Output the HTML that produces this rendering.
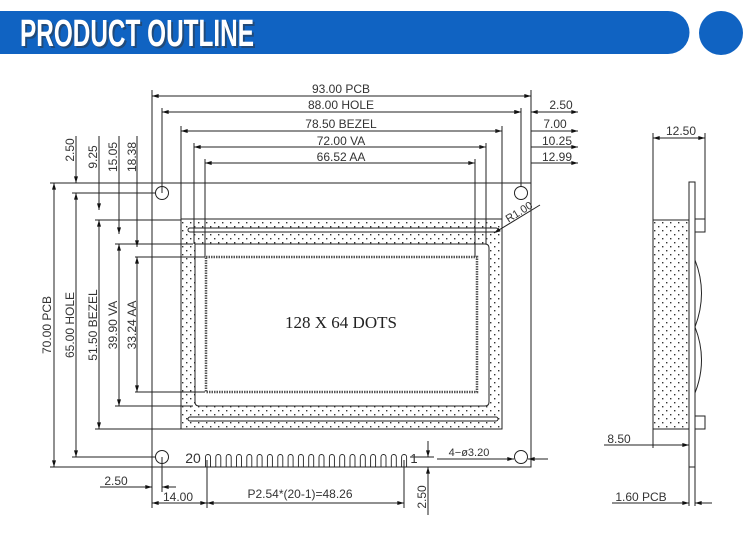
<!DOCTYPE html>
<html><head><meta charset="utf-8"><style>
html,body{margin:0;padding:0;background:#fff;width:750px;height:550px;overflow:hidden}
svg{display:block}
.t{font-family:"Liberation Sans",sans-serif;font-size:12px;fill:#333}
</style></head><body>
<svg width="750" height="550" viewBox="0 0 750 550" xmlns="http://www.w3.org/2000/svg">
<defs>
<marker id="a" viewBox="0 0 10 6" refX="10" refY="3" markerWidth="8" markerHeight="4" orient="auto-start-reverse" markerUnits="userSpaceOnUse"><path d="M0,0L10,3L0,6z" fill="#111"/></marker>
<pattern id="dots" width="8" height="8" patternUnits="userSpaceOnUse"><rect x="2" y="2" width="1.4" height="1.4" fill="#333"/><rect x="6" y="6" width="1.4" height="1.4" fill="#333"/></pattern>
</defs>
<!-- header -->
<path d="M0,11H668A21.5,21.5 0 0 1 668,54H0Z" fill="#1063c2"/>
<circle cx="721" cy="33" r="22" fill="#1063c2"/>
<text x="22" y="48" font-family="Liberation Sans,sans-serif" font-weight="bold" font-size="38" fill="#333" opacity=".5" textLength="234" lengthAdjust="spacingAndGlyphs">PRODUCT OUTLINE</text>
<text x="20" y="46" font-family="Liberation Sans,sans-serif" font-weight="bold" font-size="38" fill="#fff" textLength="234" lengthAdjust="spacingAndGlyphs">PRODUCT OUTLINE</text>

<g stroke="#222" stroke-width="1" fill="none">
<rect x="152" y="183" width="379" height="284"/>
<circle cx="162" cy="193" r="6.5"/><circle cx="521" cy="193" r="6.5"/>
<circle cx="162" cy="457" r="6.5"/><circle cx="521" cy="457" r="6.5"/>
<path d="M181,219H502V429H181Z M195,244V402Q195,406 199,406H485Q489,406 489,402V248Q489,244 485,244Z" fill="url(#dots)" fill-rule="evenodd"/>
<rect x="188" y="228" width="310" height="4" rx="2" fill="#fff"/>
<rect x="188" y="417" width="310" height="4" rx="2" fill="#fff"/>
<rect x="206" y="257" width="271" height="135" fill="#fff" stroke="#555" stroke-width="2.5" stroke-dasharray="1.5 1"/>
<path d="M152,90V183M531,90V183M162,108V193M521,108V186M181,126V219M502,126V219M194,143V244M486,143V244M205,159V257M475,159V257"/>
<path d="M152,96H531" marker-start="url(#a)" marker-end="url(#a)"/>
<path d="M162,112H521" marker-start="url(#a)" marker-end="url(#a)"/>
<path d="M181,131H502" marker-start="url(#a)" marker-end="url(#a)"/>
<path d="M194,147H486" marker-start="url(#a)" marker-end="url(#a)"/>
<path d="M205,163H475" marker-start="url(#a)" marker-end="url(#a)"/>
<path d="M511,112H521M541,112H531M533,112H578" marker-end="url(#a)"/>
<path d="M492,131H502M541,131H531M533,131H578" marker-end="url(#a)"/>
<path d="M476,147H486M541,147H531M533,147H578" marker-end="url(#a)"/>
<path d="M465,163H475M541,163H531M533,163H578" marker-end="url(#a)"/>
<path d="M511,112H521" marker-end="url(#a)"/><path d="M541,112H531" marker-end="url(#a)"/>
<path d="M50,183H152M72,193H155M95,220H181M115,244H193M135,257H205M135,392H205M115,406H193M95,429H181M72,457H155M50,467H152"/>
<path d="M54,183V467" marker-start="url(#a)" marker-end="url(#a)"/>
<path d="M76,193V457" marker-start="url(#a)" marker-end="url(#a)"/>
<path d="M99,220V429" marker-start="url(#a)" marker-end="url(#a)"/>
<path d="M119,244V406" marker-start="url(#a)" marker-end="url(#a)"/>
<path d="M137,257V392" marker-start="url(#a)" marker-end="url(#a)"/>
<path d="M76,136V183" marker-end="url(#a)"/>
<path d="M99,136V210" marker-end="url(#a)"/>
<path d="M119,136V234" marker-end="url(#a)"/>
<path d="M137,136V247" marker-end="url(#a)"/>
<path d="M152,467V508M162,457V492M207,460V508M404,460V508"/>
<path d="M100,487H152" marker-end="url(#a)"/><path d="M176,487H162" marker-end="url(#a)"/>
<path d="M152,503H207" marker-start="url(#a)" marker-end="url(#a)"/>
<path d="M207,503H404" marker-start="url(#a)" marker-end="url(#a)"/>
<path d="M410,457H434M428,441V457" marker-end="url(#a)"/>
<path d="M428,515V467" marker-end="url(#a)"/>
<path d="M437,459H514" marker-end="url(#a)"/><path d="M548,459H528" marker-end="url(#a)"/>
<path d="M540,205L494,233" marker-end="url(#a)"/>
<g stroke-width="0.9">
<path d="M205.5,467V457a2.5,2.5 0 0 1 5,0V467M215.8,467V457a2.5,2.5 0 0 1 5,0V467M226.2,467V457a2.5,2.5 0 0 1 5,0V467M236.5,467V457a2.5,2.5 0 0 1 5,0V467M246.8,467V457a2.5,2.5 0 0 1 5,0V467M257.1,467V457a2.5,2.5 0 0 1 5,0V467M267.4,467V457a2.5,2.5 0 0 1 5,0V467M277.8,467V457a2.5,2.5 0 0 1 5,0V467M288.1,467V457a2.5,2.5 0 0 1 5,0V467M298.4,467V457a2.5,2.5 0 0 1 5,0V467M308.7,467V457a2.5,2.5 0 0 1 5,0V467M319,467V457a2.5,2.5 0 0 1 5,0V467M329.4,467V457a2.5,2.5 0 0 1 5,0V467M339.7,467V457a2.5,2.5 0 0 1 5,0V467M350,467V457a2.5,2.5 0 0 1 5,0V467M360.3,467V457a2.5,2.5 0 0 1 5,0V467M370.6,467V457a2.5,2.5 0 0 1 5,0V467M381,467V457a2.5,2.5 0 0 1 5,0V467M391.3,467V457a2.5,2.5 0 0 1 5,0V467M401.6,467V457a2.5,2.5 0 0 1 5,0V467"/>
</g>
<rect x="653" y="220" width="36" height="209" fill="url(#dots)"/>
<rect x="689" y="182" width="6" height="285" fill="#fff"/>
<rect x="695" y="219" width="10" height="13"/><rect x="695" y="416" width="10" height="13"/>
<path d="M695,260Q708,293 695,327Q708,360 695,393"/>
<path d="M653,133V220M705,133V219"/>
<path d="M653,138H705" marker-start="url(#a)" marker-end="url(#a)"/>
<path d="M653,429V448M689,467V506M695,467V506"/>
<path d="M604,445H653M653,445H689" marker-end="url(#a)"/>
<path d="M612,503H689" marker-end="url(#a)"/><path d="M712,503H695" marker-end="url(#a)"/>
</g>
<g class="t" text-anchor="middle">
<text x="341" y="93">93.00  PCB</text>
<text x="341" y="109">88.00  HOLE</text>
<text x="341" y="128">78.50  BEZEL</text>
<text x="341" y="145">72.00  VA</text>
<text x="341" y="161">66.52  AA</text>
<text x="561" y="109">2.50</text>
<text x="555" y="128">7.00</text>
<text x="557" y="145">10.25</text>
<text x="557" y="161">12.99</text>
<text x="681" y="135">12.50</text>
<text transform="translate(74,150) rotate(-90)">2.50</text>
<text transform="translate(97,157) rotate(-90)">9.25</text>
<text transform="translate(117,157) rotate(-90)">15.05</text>
<text transform="translate(136,157) rotate(-90)">18.38</text>
<text transform="translate(51,325) rotate(-90)">70.00  PCB</text>
<text transform="translate(74,325) rotate(-90)">65.00  HOLE</text>
<text transform="translate(97,325) rotate(-90)">51.50  BEZEL</text>
<text transform="translate(117,325) rotate(-90)">39.90  VA</text>
<text transform="translate(136,325) rotate(-90)">33.24  AA</text>
<text x="116" y="485">2.50</text>
<text x="178" y="501">14.00</text>
<text x="300" y="498">P2.54*(20-1)=48.26</text>
<text transform="translate(426,497) rotate(-90)">2.50</text>
<text x="469" y="456" font-size="11">4−ø3.20</text>
<text x="619" y="443">8.50</text>
<text x="641" y="501">1.60  PCB</text>
<text x="193" y="463" font-size="14">20</text>
<text x="414" y="463" font-size="13">1</text>
<text transform="translate(521,215) rotate(-32)" font-size="11">R1.00</text>
</g>
<text x="341" y="328" text-anchor="middle" font-family="Liberation Serif,serif" font-size="17" fill="#222">128 X 64 DOTS</text>
</svg>
</body></html>
